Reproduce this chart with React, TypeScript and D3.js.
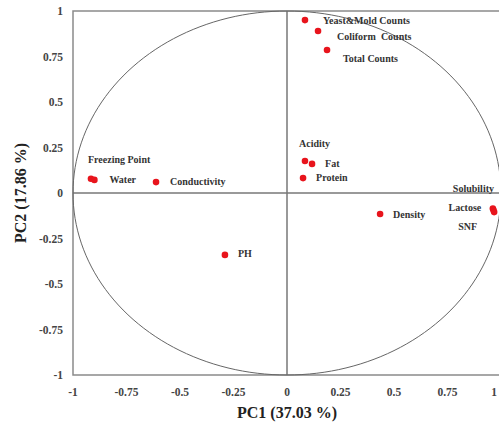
import React, { useEffect, useRef } from "react";
import * as d3 from "d3";

const names = ["Yeast&Mold Counts", "Coliform  Counts", "Total Counts", "Acidity", "Fat", "Protein", "Density", "Solubility", "Lactose", "SNF", "Freezing Point", "Water", "Conductivity", "PH"];
const pc1 = [0.084, 0.145, 0.187, 0.084, 0.117, 0.075, 0.435, 0.962, 0.965, 0.968, -0.916, -0.9, -0.612, -0.29];
const pc2 = [0.95, 0.89, 0.786, 0.176, 0.16, 0.082, -0.115, -0.085, -0.095, -0.105, 0.078, 0.072, 0.06, -0.34];
// label offsets (px) relative to each point
const labelDx = [18, 19, 16, -6, 13, 13, 13, -40, -45, -36, -3, 15, 14, 13];
const labelDy = [4, 9, 12, -14, 3, 3, 4, -16, 1, 18, -16, 3, 3, 2];

const ticks = [-1, -0.75, -0.5, -0.25, 0, 0.25, 0.5, 0.75, 1];

const App = () => {
  const ref = useRef<SVGSVGElement>(null);

  useEffect(() => {
    const svg = d3.select(ref.current);
    svg.selectAll("*").remove();

    const x = d3.scaleLinear().domain([-1, 1]).range([73, 501]);
    const y = d3.scaleLinear().domain([-1, 1]).range([375, 11]);
    const font = "Liberation Serif";

    // frame
    svg.append("rect")
      .attr("x", x(-1)).attr("y", y(1))
      .attr("width", x(1) - x(-1)).attr("height", y(-1) - y(1))
      .attr("fill", "none").attr("stroke", "#8a8a8a").attr("stroke-width", 1.5);

    // zero lines
    svg.append("line")
      .attr("x1", x(-1)).attr("x2", x(1)).attr("y1", y(0)).attr("y2", y(0))
      .attr("stroke", "#777").attr("stroke-width", 1.5);
    svg.append("line")
      .attr("x1", x(0)).attr("x2", x(0)).attr("y1", y(1)).attr("y2", y(-1))
      .attr("stroke", "#777").attr("stroke-width", 1.5);

    // correlation circle
    const circle = d3.range(0, 361, 2).map((a) => [Math.cos((a * Math.PI) / 180), Math.sin((a * Math.PI) / 180)]);
    svg.append("path")
      .attr("d", d3.line<number[]>().x((d) => x(d[0])).y((d) => y(d[1]))(circle))
      .attr("fill", "none").attr("stroke", "#666").attr("stroke-width", 1);

    // tick labels
    svg.append("g").selectAll("text").data(ticks).enter().append("text")
      .attr("x", (d) => Math.min(x(d), 494)).attr("y", 396)
      .attr("text-anchor", "middle")
      .style("font-family", font).attr("font-weight", "bold").attr("font-size", 11.5)
      .attr("fill", "#444")
      .text((d) => String(d));
    svg.append("g").selectAll("text").data(ticks).enter().append("text")
      .attr("x", 63).attr("y", (d) => y(d) + 4)
      .attr("text-anchor", "end")
      .style("font-family", font).attr("font-weight", "bold").attr("font-size", 11.5)
      .attr("fill", "#444")
      .text((d) => String(d));

    // axis titles
    svg.append("text")
      .attr("x", x(0)).attr("y", 418).attr("text-anchor", "middle")
      .style("font-family", font).attr("font-weight", "bold").attr("font-size", 16)
      .attr("fill", "#222").text("PC1 (37.03 %)");
    svg.append("text")
      .attr("transform", `translate(26,${y(0)}) rotate(-90)`).attr("text-anchor", "middle")
      .style("font-family", font).attr("font-weight", "bold").attr("font-size", 16)
      .attr("fill", "#222").text("PC2 (17.86 %)");

    // points
    const data = names.map((n, i) => ({ n, x: pc1[i], y: pc2[i], dx: labelDx[i], dy: labelDy[i] }));
    svg.append("g").selectAll("circle").data(data).enter().append("circle")
      .attr("cx", (d) => x(d.x)).attr("cy", (d) => y(d.y)).attr("r", 3.3)
      .attr("fill", "#e8141c");

    svg.append("g").selectAll("text").data(data).enter().append("text")
      .attr("x", (d) => x(d.x) + d.dx).attr("y", (d) => y(d.y) + d.dy)
      .style("font-family", font).attr("font-weight", "bold").attr("font-size", 10)
      .attr("fill", "#333").style("white-space", "pre")
      .text((d) => d.n);
  }, []);

  return (
    <svg ref={ref} width={499} height={427}
      style={{ position: "absolute", left: 0, top: 0, background: "#fff" }} />
  );
};

export default App;
